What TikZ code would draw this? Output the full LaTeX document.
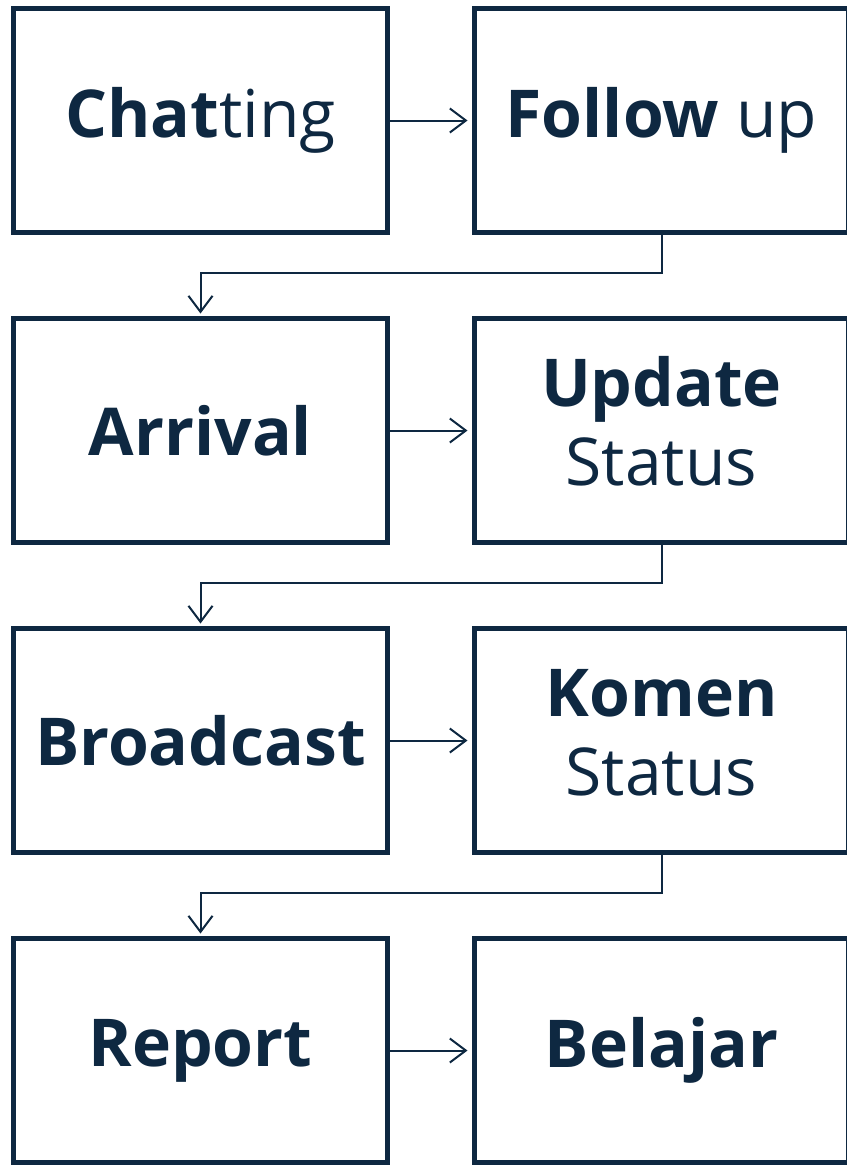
\documentclass[tikz,border=0pt]{standalone}
\usepackage{fontspec}
\setmainfont{Open Sans}
\usepackage{tikz}
\usetikzlibrary{matrix,arrows.meta}
\definecolor{navy}{HTML}{0E2841}
\newcommand{\twolines}[2]{\raisebox{-4pt}{\begin{tabular}{@{}c@{}}\textbf{#1}\\#2\end{tabular}}}

\begin{document}
\begin{tikzpicture}[x=1pt,y=-1pt,
  box/.style={draw=navy, line width=5pt, minimum width=374pt, minimum height=224pt,
    inner sep=0pt, anchor=center, text=navy, font=\fontsize{66}{79}\selectfont},
  link/.style={draw=navy, line width=2pt, -{Straight Barb[length=16pt,width=24pt,line width=2pt]}}]
 \useasboundingbox (0,0) rectangle (846,1167);
 \matrix (m) [matrix of nodes, row sep=81pt, column sep=82pt, nodes={box},
   inner sep=0pt, outer sep=0pt, anchor=north west] at (11,6)
  {
    \textbf{Chat}ting  &  \textbf{Follow} up \\
    \textbf{Arrival}   &  \twolines{Update}{Status} \\
    \textbf{Broadcast} &  \twolines{Komen}{Status} \\
    \textbf{Report}    &  \textbf{Belajar} \\
  };
  \path[link, shorten >=7pt]
  (m-1-1) edge (m-1-2)
  (m-2-1) edge (m-2-2)
  (m-3-1) edge (m-3-2)
  (m-4-1) edge (m-4-2)
  ;
  \draw[link, shorten >=5pt] (m-1-2.south) -- ++(0,40) -| (m-2-1.north);
  \draw[link, shorten >=5pt] (m-2-2.south) -- ++(0,40) -| (m-3-1.north);
  \draw[link, shorten >=5pt] (m-3-2.south) -- ++(0,40) -| (m-4-1.north);
\end{tikzpicture}
\end{document}
